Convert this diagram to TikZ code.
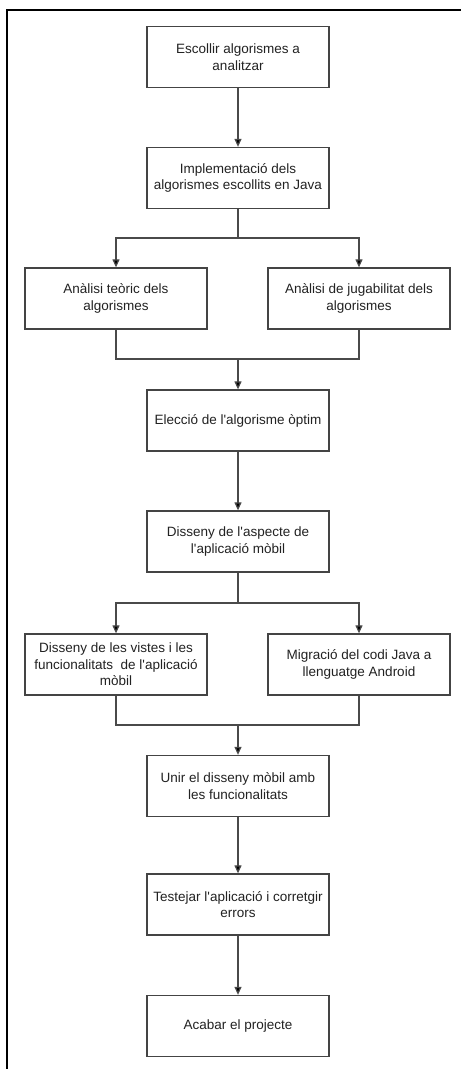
\documentclass[tikz,border=0pt]{standalone}
\usepackage{fontspec}
\setmainfont{Liberation Sans}[Ligatures=TeXOff]
\usetikzlibrary{arrows.meta}
\definecolor{boxline}{HTML}{444444}
\definecolor{txt}{HTML}{222222}
\definecolor{conn}{HTML}{4A4A4A}
\tikzset{
  stepbox/.style={draw=boxline, line width=1.3pt, fill=white, minimum width=182pt,
    minimum height=61pt, inner sep=2pt, align=center, text=txt,
    font=\fontsize{13.5pt}{16.5pt}\selectfont},
  link/.style={draw=conn, line width=1.2pt},
  flow/.style={link, -{Triangle[length=8pt,width=7pt,fill=black]}},
}
\begin{document}
\begin{tikzpicture}[x=1pt,y=-1pt]
  \useasboundingbox (0,0) rectangle (461,1069);
  % outer frame (open to the right and bottom)
  \draw[line width=2pt, black] (7,1069) -- (7,10) -- (461,10);

  \node[stepbox] (b1) at (238,57) {Escollir algorismes a\\analitzar};
  \node[stepbox] (b2) at (238,178) {Implementació dels\\algorismes escollits en Java};
  \node[stepbox] (b3l) at (116,298.5) {Anàlisi teòric dels\\algorismes};
  \node[stepbox] (b3r) at (359,298.5) {Anàlisi de jugabilitat dels\\algorismes};
  \node[stepbox] (b4) at (238,420.5) {Elecció de l'algorisme òptim};
  \node[stepbox] (b5) at (238,541.5) {Disseny de l'aspecte de\\l'aplicació mòbil};
  \node[stepbox] (b6l) at (116,664.5) {Disseny de les vistes i les\\funcionalitats\ \ de l'aplicació\\mòbil};
  \node[stepbox] (b6r) at (359,664.5) {Migració del codi Java a\\llenguatge Android};
  \node[stepbox] (b7) at (238,786) {Unir el disseny mòbil amb\\les funcionalitats};
  \node[stepbox] (b8) at (238,904.5) {Testejar l'aplicació i corretgir\\errors};
  \node[stepbox] (b9) at (238,1026) {Acabar el projecte};

  \coordinate (s1) at (238,238);
  \coordinate (m1) at (238,359);
  \coordinate (s2) at (238,603);
  \coordinate (m2) at (238,725);

  \draw[flow] (b1) -- (b2);
  \draw[link] (b2) -- (s1);
  \draw[flow] (s1) -| (b3l);
  \draw[flow] (s1) -| (b3r);
  \draw[link] (b3l) |- (m1);
  \draw[link] (b3r) |- (m1);
  \draw[flow] (m1) -- (b4);
  \draw[flow] (b4) -- (b5);
  \draw[link] (b5) -- (s2);
  \draw[flow] (s2) -| (b6l);
  \draw[flow] (s2) -| (b6r);
  \draw[link] (b6l) |- (m2);
  \draw[link] (b6r) |- (m2);
  \draw[flow] (m2) -- (b7);
  \draw[flow] (b7) -- (b8);
  \draw[flow] (b8) -- (b9);
\end{tikzpicture}
\end{document}
